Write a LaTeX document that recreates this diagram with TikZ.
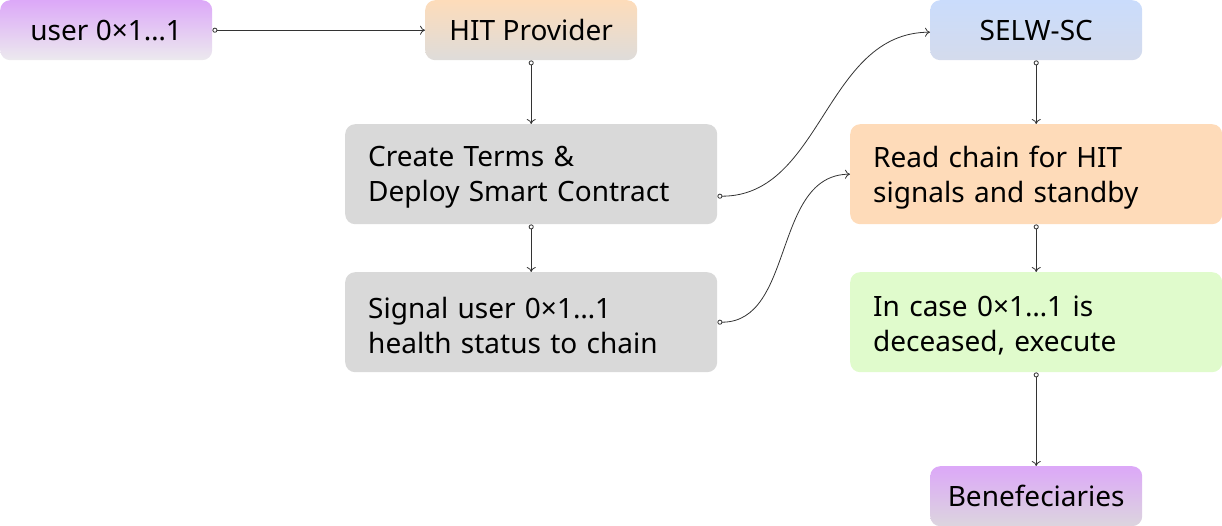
\documentclass[tikz,border=0pt]{standalone}
\usepackage{fontspec}
\setmainfont{Noto Sans}
\usetikzlibrary{arrows.meta}

\definecolor{lilac}{HTML}{DCA8F8}
\definecolor{lilacgray}{HTML}{ECEAEE}
\definecolor{peach}{HTML}{FDDCBA}
\definecolor{peachgray}{HTML}{DEDCDA}
\definecolor{skyblue}{HTML}{CADCFC}
\definecolor{skygray}{HTML}{D4DBEC}
\definecolor{boxgray}{HTML}{D9D9D9}
\definecolor{readpeach}{HTML}{FEDBB9}
\definecolor{mint}{HTML}{E0FBCC}
\definecolor{benefgray}{HTML}{DCD5DE}
\definecolor{linkgray}{HTML}{333333}

\begin{document}
\begin{tikzpicture}[x=1pt,y=-1pt,
    box/.style={rounded corners=10pt, anchor=north west, inner sep=0pt,
        font=\fontsize{28}{35}\selectfont},
    smallbox/.style={box, minimum width=212pt, minimum height=60pt},
    widebox/.style={box, minimum width=372pt, minimum height=100pt,
        inner xsep=23pt, text width=326pt, align=left,
        execute at end node={\endgraf\vspace*{-6pt}}},
    link/.style={draw=linkgray, line width=0.8pt,
        {Circle[open,fill=white,length=5pt,width=5pt]}-{To[length=5pt,width=9pt]}}]
    \useasboundingbox (0,0) rectangle (1222,526);

    % draw top row
    \node[smallbox, top color=lilac, bottom color=lilacgray] (user) at (0,0) {user 0×1…1};
    \node[smallbox, top color=peach, bottom color=peachgray] (provider) at (425,0) {HIT Provider};
    \node[smallbox, top color=skyblue, bottom color=skygray] (selw) at (930,0) {SELW-SC};

    % draw left column
    \node[widebox, fill=boxgray] (terms) at (345,124) {Create Terms \&\\Deploy Smart Contract};
    \node[widebox, fill=boxgray] (signal) at (345,272) {Signal user 0×1…1\\health status to chain};

    % draw right column
    \node[widebox, fill=readpeach] (readchain) at (850,124) {Read chain for HIT\\signals and standby};
    \node[widebox, fill=mint] (incase) at (850,272) {In case 0×1…1 is\\deceased, execute};
    \node[smallbox, top color=lilac, bottom color=benefgray] (benef) at (930,466) {Benefeciaries};

    % draw connectors
    \draw[link] (user.east) -- (provider.west);
    \draw[link] (provider.south) -- (terms.north);
    \draw[link] (terms.south) -- (signal.north);
    \draw[link] ([yshift=-22pt]terms.east) to[out=0,in=180] ([yshift=-2pt]selw.west);
    \draw[link] (signal.east) to[out=0,in=180] (readchain.west);
    \draw[link] (selw.south) -- (readchain.north);
    \draw[link] (readchain.south) -- (incase.north);
    \draw[link] (incase.south) -- (benef.north);
\end{tikzpicture}
\end{document}
